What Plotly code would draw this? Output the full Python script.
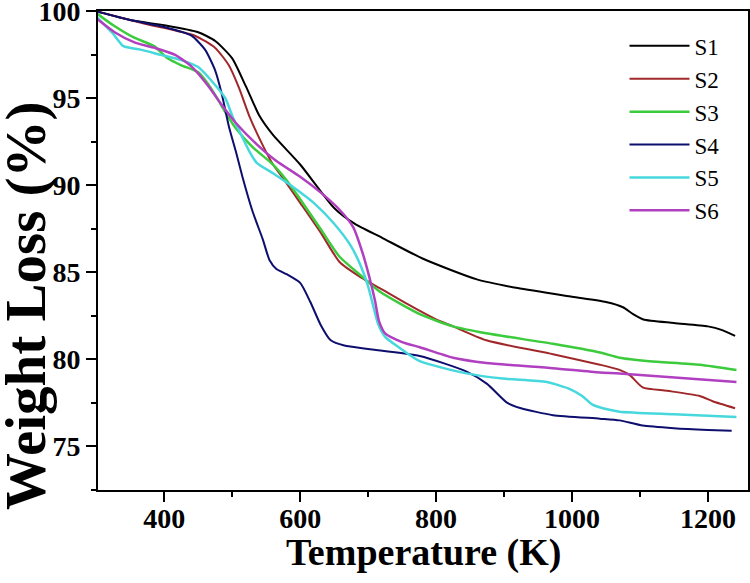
import plotly.graph_objects as go

# ---- data ----
s1_T = [300, 350, 400, 450, 475, 500, 520, 540, 560, 600, 650, 680, 720, 780, 860, 920, 1000, 1050, 1075, 1090, 1105, 1150, 1200, 1220, 1240]
s1_W = [100, 99.5, 99.2, 98.8, 98.3, 97.3, 95.7, 94.0, 92.9, 91.2, 88.7, 87.8, 87.0, 85.8, 84.6, 84.1, 83.6, 83.3, 83.0, 82.6, 82.3, 82.1, 81.9, 81.7, 81.35]

s2_T = [300, 370, 445, 475, 495, 510, 525, 545, 560, 575, 600, 630, 658, 690, 717, 766, 800, 825, 874, 972, 1041, 1070, 1085, 1104, 1140, 1188, 1207, 1240]
s2_W = [100, 99.3, 98.6, 97.9, 96.9, 95.6, 94.0, 92.3, 91.2, 90.4, 89.0, 87.3, 85.6, 84.7, 84.1, 83.0, 82.3, 81.9, 81.1, 80.3, 79.7, 79.4, 79.1, 78.4, 78.2, 77.9, 77.6, 77.2]

s3_T = [300, 325, 355, 385, 405, 425, 450, 465, 478, 490, 505, 530, 560, 580, 600, 630, 658, 690, 717, 776, 825, 874, 972, 1041, 1070, 1114, 1188, 1242]
s3_W = [99.9, 99.2, 98.5, 98.0, 97.3, 96.9, 96.5, 95.8, 95.0, 94.2, 93.3, 92.2, 91.2, 90.3, 89.2, 87.5, 85.9, 84.8, 83.9, 82.6, 81.9, 81.5, 80.9, 80.4, 80.1, 79.9, 79.7, 79.4]

s4_T = [300, 350, 400, 440, 460, 475, 485, 495, 505, 515, 530, 545, 555, 565, 580, 600, 615, 630, 645, 665, 700, 776, 845, 875, 905, 925, 972, 1041, 1070, 1104, 1150, 1200, 1235]
s4_W = [100, 99.5, 99.1, 98.6, 97.8, 96.6, 95.2, 93.4, 92.0, 90.5, 88.5, 86.9, 85.7, 85.2, 84.9, 84.4, 83.3, 82.0, 81.1, 80.8, 80.6, 80.2, 79.3, 78.6, 77.5, 77.2, 76.8, 76.6, 76.5, 76.2, 76.05, 75.95, 75.9]

s5_T = [300, 325, 340, 365, 395, 425, 450, 472, 490, 500, 512, 526, 536, 560, 590, 620, 650, 675, 690, 700, 708, 715, 725, 745, 776, 845, 898, 963, 997, 1015, 1030, 1050, 1070, 1150, 1242]
s5_W = [99.7, 98.7, 98.0, 97.8, 97.5, 97.2, 96.8, 95.9, 95.0, 94.0, 93.0, 91.9, 91.3, 90.7, 89.9, 89.0, 87.8, 86.5, 85.3, 84.2, 83.0, 82.0, 81.3, 80.7, 79.9, 79.2, 78.9, 78.7, 78.3, 77.9, 77.4, 77.15, 77.0, 76.85, 76.7]

s6_T = [300, 327, 357, 386, 416, 441, 465, 485, 505, 535, 565, 600, 630, 658, 678, 692, 702, 710, 716, 725, 750, 776, 825, 874, 972, 1041, 1070, 1242]
s6_W = [99.6, 98.8, 98.2, 97.9, 97.5, 96.8, 95.7, 94.6, 93.6, 92.4, 91.4, 90.5, 89.6, 88.6, 87.6, 86.1, 84.7, 83.4, 82.2, 81.5, 81.0, 80.7, 80.1, 79.8, 79.5, 79.25, 79.2, 78.7]

names = ["S1", "S2", "S3", "S4", "S5", "S6"]
series = [(s1_T, s1_W), (s2_T, s2_W), (s3_T, s3_W), (s4_T, s4_W), (s5_T, s5_W), (s6_T, s6_W)]
colors = ["#000000", "#A0282A", "#3CCB3C", "#0E0E6E", "#46D8DC", "#B040C0"]
widths = [2, 2, 2.5, 2, 2.5, 2.5]

x_ticks = [400, 600, 800, 1000, 1200]
y_ticks = [75, 80, 85, 90, 95, 100]

FONT = "Liberation Serif"

fig = go.Figure()
for name, (t, w), c, lw in zip(names, series, colors, widths):
    fig.add_trace(go.Scatter(x=t, y=w, mode="lines", name=name,
                             line=dict(color=c, width=lw, shape="spline", smoothing=0.6)))

fig.update_layout(
    width=750, height=583,
    margin=dict(l=98, r=2, t=11, b=93, autoexpand=False),
    plot_bgcolor="white", paper_bgcolor="white",
    font=dict(family=FONT, color="black"),
    legend=dict(x=0.81, y=0.972, xanchor="left", yanchor="top",
                font=dict(family=FONT, size=23, color="black"),
                bgcolor="rgba(0,0,0,0)", itemwidth=60, tracegroupgap=0),
    showlegend=True,
    annotations=[
        dict(text="<b>Temperature (K)</b>", xref="paper", yref="paper", x=0.5, y=-0.131,
             xanchor="center", yanchor="middle", showarrow=False,
             font=dict(family=FONT, size=38, color="black")),
        dict(text="<b>Weight Loss (%)</b>", xref="paper", yref="paper", x=-0.111, y=0.386,
             xanchor="center", yanchor="middle", showarrow=False, textangle=-90,
             font=dict(family=FONT, size=57, color="black")),
    ],
)
fig.update_xaxes(
    range=[302.5, 1259], tickvals=x_ticks, ticktext=[str(v) for v in x_ticks],
    ticks="outside", ticklen=10, tickwidth=2, tickcolor="black",
    minor=dict(ticks="outside", ticklen=5, tickwidth=2, tickcolor="black", dtick=100, tick0=300),
    showline=True, linewidth=2, linecolor="black", mirror=True, showgrid=False, zeroline=False,
    tickfont=dict(family=FONT, size=28, color="black", weight="bold"), automargin=False,
    ticklabelstandoff=-8, ticklabeloverflow="allow",
)
fig.update_yaxes(
    range=[72.5, 100.02], tickvals=y_ticks, ticktext=[str(v) for v in y_ticks],
    ticks="outside", ticklen=10, tickwidth=2, tickcolor="black",
    minor=dict(ticks="outside", ticklen=5, tickwidth=2, tickcolor="black", dtick=2.5, tick0=72.5),
    showline=True, linewidth=2, linecolor="black", mirror=True, showgrid=False, zeroline=False,
    tickfont=dict(family=FONT, size=28, color="black", weight="bold"), automargin=False,
    ticklabeloverflow="allow",
)
fig.write_html("out.html", config={"displayModeBar": False},
               post_script="document.body.style.margin='0';document.body.style.padding='0';")
